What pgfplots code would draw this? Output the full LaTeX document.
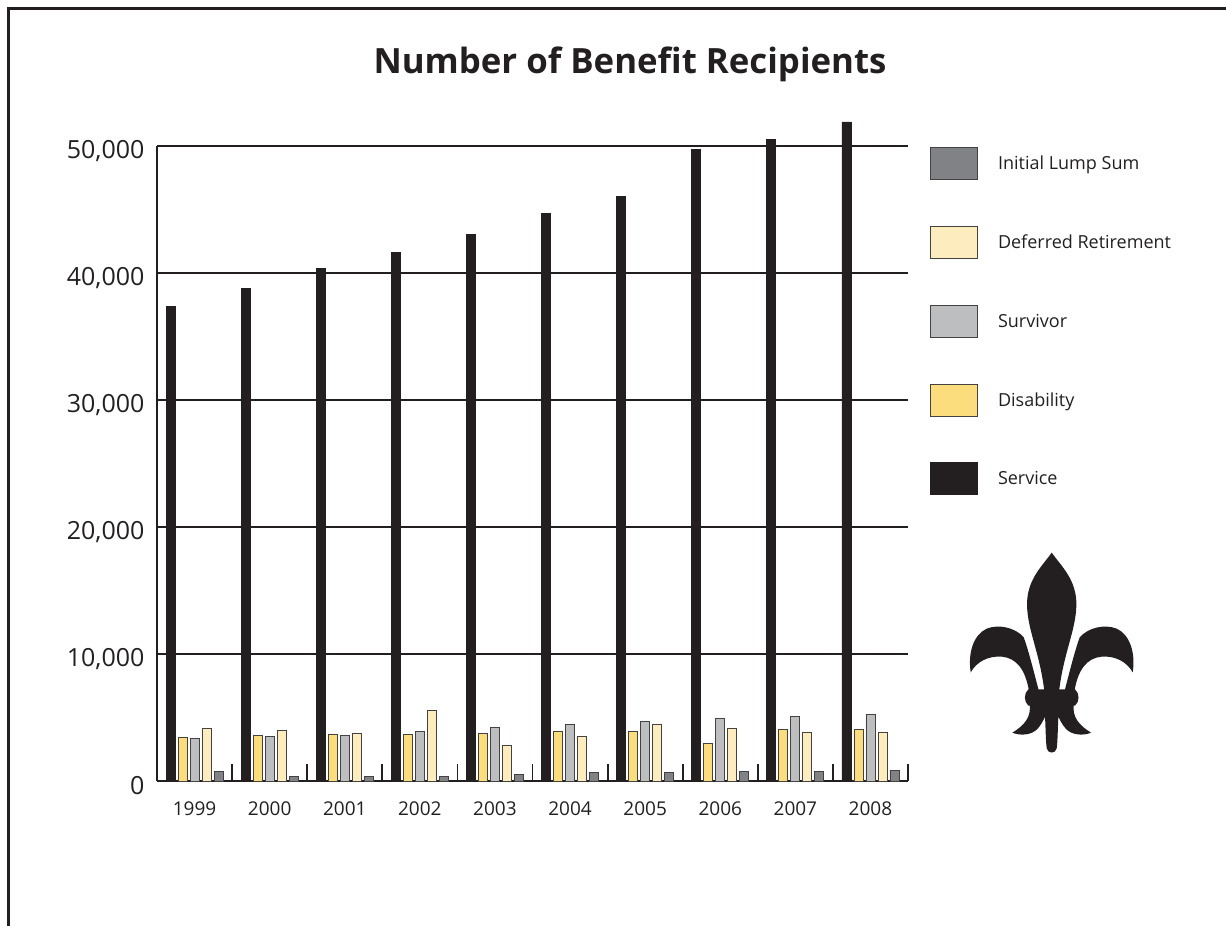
\documentclass[border=0pt]{standalone}
\usepackage{pgfplots}
\pgfplotsset{compat=1.18}
\usepackage{fontspec}
\setmainfont{Open Sans}
\definecolor{ink}{HTML}{231F20}
\definecolor{cdis}{HTML}{FCDD7E}
\definecolor{csur}{HTML}{BCBEC0}
\definecolor{cdef}{HTML}{FDECBE}
\definecolor{clump}{HTML}{808285}
\begin{document}
\begin{tikzpicture}[x=1pt,y=1pt]
\path[use as bounding box] (0,0) rectangle (1226,926);
\draw[ink, line width=2.5pt] (8.7,0) -- (8.7,917.3) -- (1226,917.3);
\node[font=\fontsize{34.8pt}{40pt}\selectfont\bfseries, text=ink] at (630,862) {Number of Benefit Recipients};
\begin{axis}[
  at={(157pt,145pt)}, anchor=south west,
  scale only axis, width=751pt, height=635pt,
  xmin=-0.5, xmax=9.5, ymin=0, ymax=50000,
  enlargelimits=false, clip=false,
  axis x line*=bottom, axis y line*=left,
  axis line style={ink, line width=1.5pt},
  every tick/.style={ink, line width=1.8pt},
  ybar=3pt, bar width=9pt,
  xtick={0,...,9},
  xticklabels={1999,2000,2001,2002,2003,2004,2005,2006,2007,2008},
  xticklabel style={font=\fontsize{19pt}{22pt}\selectfont, text=ink, yshift=-17pt},
  major tick length=0pt,
  extra x ticks={0.5,1.5,...,9.5},
  extra x tick labels={},
  extra x tick style={major tick length=17pt, tick align=inside, major tick style={ink, line width=1.8pt}},
  ytick={0,10000,...,50000},
  scaled y ticks=false,
  yticklabel style={font=\fontsize{25pt}{28pt}\selectfont, text=ink, xshift=-9pt, yshift=-5pt,
    /pgf/number format/.cd, 1000 sep={,}, assume math mode=true},
  ymajorgrids, grid style={ink, line width=1.5pt},
  legend style={at={(rel axis cs:1.0293,0.9984)}, anchor=north west, draw=none, fill=none,
    font=\fontsize{18pt}{21pt}\selectfont, text=ink, row sep=46pt, inner sep=0pt,
    nodes={inner sep=0pt}},
  legend cell align=left,
  reverse legend,
  legend image code/.code={\draw[#1, line width=0.8pt] (0pt,-16pt) rectangle (47pt,16pt); \path (67pt,0pt);},
]
\addplot[fill=ink, draw=ink, line width=0.8pt] coordinates {(0,37400) (1,38760) (2,40370) (3,41600) (4,43070) (5,44720) (6,46060) (7,49760) (8,50550) (9,51890)};
\addplot[fill=cdis, draw=ink!85, line width=0.8pt] coordinates {(0,3400) (1,3580) (2,3640) (3,3690) (4,3770) (5,3870) (6,3870) (7,2950) (8,4030) (9,4030)};
\addplot[fill=csur, draw=ink!85, line width=0.8pt] coordinates {(0,3320) (1,3500) (2,3610) (3,3920) (4,4190) (5,4470) (6,4710) (7,4920) (8,5080) (9,5240)};
\addplot[fill=cdef, draw=ink!85, line width=0.8pt] coordinates {(0,4110) (1,3950) (2,3740) (3,5530) (4,2770) (5,3480) (6,4450) (7,4110) (8,3790) (9,3820)};
\addplot[fill=clump, draw=ink!85, line width=0.8pt] coordinates {(0,750) (1,330) (2,330) (3,330) (4,490) (5,640) (6,670) (7,720) (8,770) (9,830)};
\legend{Service,Disability,Survivor,Deferred Retirement,Initial Lump Sum}
\end{axis}
% fleur-de-lis decoration
\begin{scope}[shift={(1051.7,386)}, x=0.3333pt, y=-0.3333pt]
\fill[ink] (0,38) .. controls (30,80) and (75,120) .. (74,195) .. controls (73,270) and (35,340) .. (22,455)
  -- (-22,455) .. controls (-35,340) and (-73,270) .. (-74,195) .. controls (-75,120) and (-30,80) .. (0,38) -- cycle;
\foreach \s in {1,-1}{
\fill[ink] (-38*\s,455) .. controls (-55*\s,390) and (-70*\s,330) .. (-84*\s,292)
  .. controls (-110*\s,262) and (-160*\s,252) .. (-195*\s,266)
  .. controls (-235*\s,284) and (-252*\s,340) .. (-243*\s,397)
  .. controls (-225*\s,365) and (-190*\s,347) .. (-150*\s,350)
  .. controls (-105*\s,354) and (-78*\s,390) .. (-68*\s,455) -- cycle;
}
\fill[ink] (-70,448) .. controls (-84,460) and (-84,485) .. (-70,497) -- (70,497) .. controls (84,485) and (84,460) .. (70,448) -- cycle;
\fill[ink] (-66,495) .. controls (-62,530) and (-80,555) .. (-118,578)
  .. controls (-95,588) and (-60,586) .. (-42,566)
  .. controls (-30,552) and (-25,540) .. (-20,530)
  .. controls (-18,570) and (-18,600) .. (-15,625) .. controls (-12,642) and (12,642) .. (15,625)
  .. controls (18,600) and (18,570) .. (20,530)
  .. controls (25,540) and (30,552) .. (42,566)
  .. controls (60,586) and (95,588) .. (118,578)
  .. controls (80,555) and (62,530) .. (66,495) -- cycle;
\end{scope}
\end{tikzpicture}
\end{document}
